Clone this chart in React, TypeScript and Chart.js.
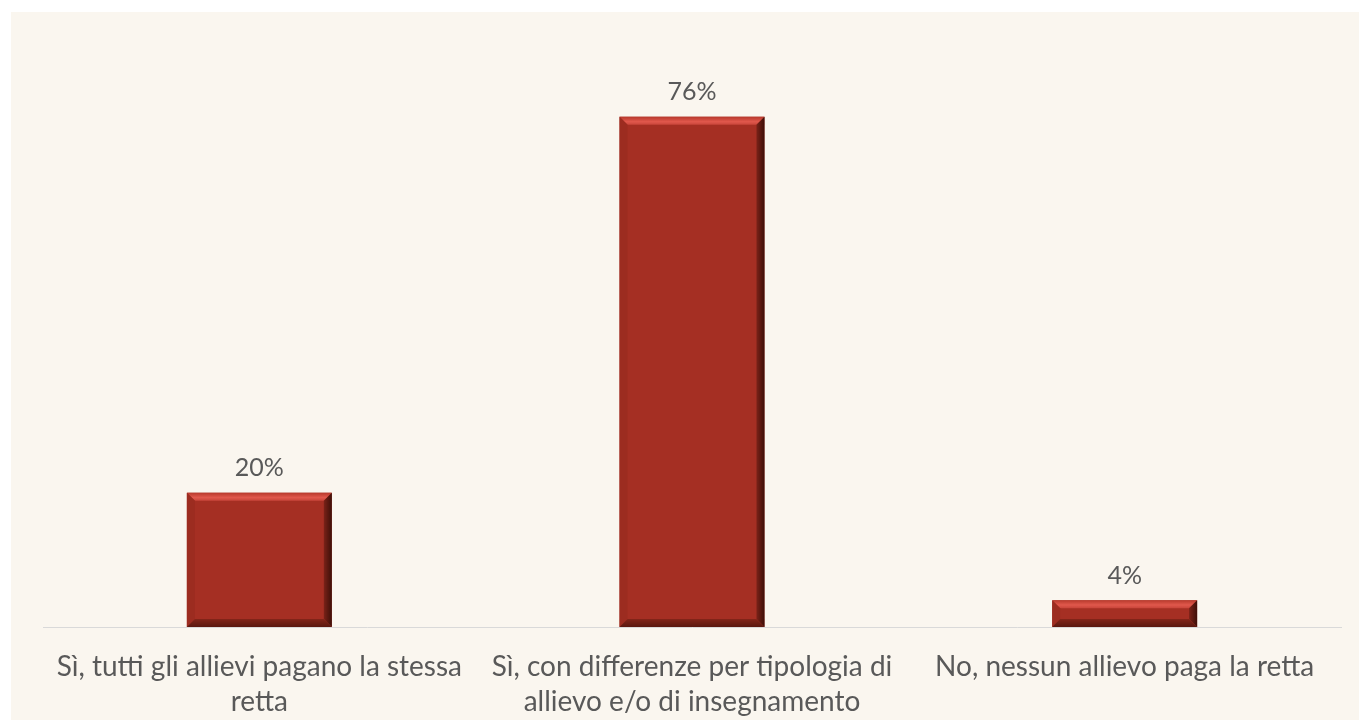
import React, { useEffect, useRef } from "react";
import { Chart, registerables } from "chart.js";

Chart.register(...registerables);

const categories: string[][] = [
  ["Sì, tutti gli allievi pagano la stessa", "retta"],
  ["Sì, con differenze per tipologia di", "allievo e/o di insegnamento"],
  ["No, nessun allievo paga la retta"],
];
const values: number[] = [20, 76, 4];
const valueLabels: string[] = ["20%", "76%", "4%"];

const bevelPlugin = {
  id: "bevel",
  afterDatasetsDraw(chart: any) {
    const ctx = chart.ctx;
    const meta = chart.getDatasetMeta(0);
    meta.data.forEach((bar: any) => {
      const p = bar.getProps(["x", "y", "base", "width"], true);
      const l = p.x - p.width / 2;
      const r = p.x + p.width / 2;
      const t = Math.min(p.y, p.base);
      const btm = Math.max(p.y, p.base);
      const b = Math.min(8, (btm - t) / 3);
      ctx.save();
      const poly = (pts: number[][], fill: any) => {
        ctx.beginPath();
        ctx.moveTo(pts[0][0], pts[0][1]);
        for (let i = 1; i < pts.length; i++) ctx.lineTo(pts[i][0], pts[i][1]);
        ctx.closePath();
        ctx.fillStyle = fill;
        ctx.fill();
      };
      const gTop = ctx.createLinearGradient(0, t, 0, t + b);
      gTop.addColorStop(0, "#B8392C");
      gTop.addColorStop(0.6, "#E0584C");
      gTop.addColorStop(1, "#C8453A");
      poly([[l, t], [r, t], [r - b, t + b], [l + b, t + b]], gTop);
      poly([[l, t], [l + b, t + b], [l + b, btm - b], [l, btm]], "#9C2C20");
      const gR = ctx.createLinearGradient(r - b, 0, r, 0);
      gR.addColorStop(0, "#7A2218");
      gR.addColorStop(1, "#3E0F08");
      poly([[r, t], [r, btm], [r - b, btm - b], [r - b, t + b]], gR);
      const gB = ctx.createLinearGradient(0, btm - b, 0, btm);
      gB.addColorStop(0, "#832519");
      gB.addColorStop(1, "#5A180F");
      poly([[l, btm], [r, btm], [r - b, btm - b], [l + b, btm - b]], gB);
      ctx.restore();
    });
  },
};

const labelPlugin = {
  id: "valueLabels",
  afterDatasetsDraw(chart: any) {
    const ctx = chart.ctx;
    const meta = chart.getDatasetMeta(0);
    ctx.save();
    ctx.font = "25px Lato";
    ctx.fillStyle = "#595959";
    ctx.textAlign = "center";
    ctx.textBaseline = "bottom";
    meta.data.forEach((bar: any, i: number) => {
      const p = bar.getProps(["x", "y"], true);
      ctx.fillText(valueLabels[i], p.x, p.y - 12);
    });
    ctx.restore();
  },
};

export default function App() {
  const ref = useRef<HTMLCanvasElement | null>(null);
  useEffect(() => {
    if (!ref.current) return;
    const chart = new Chart(ref.current, {
      type: "bar",
      data: {
        labels: categories,
        datasets: [
          {
            data: values,
            backgroundColor: "#A52F23",
            borderWidth: 0,
            barPercentage: 0.335,
            categoryPercentage: 1,
          },
        ],
      },
      options: {
        animation: false,
        responsive: true,
        maintainAspectRatio: false,
        layout: { padding: { left: 32, right: 18, top: 78, bottom: 0 } },
        plugins: {
          legend: { display: false },
          tooltip: { enabled: false },
        },
        scales: {
          x: {
            grid: { display: false, drawTicks: false },
            border: { display: true, color: "#D9D9D9", width: 1 },
            ticks: {
              color: "#595959",
              font: { family: "Lato", size: 28, lineHeight: 1.25 },
              padding: 22,
              maxRotation: 0,
              autoSkip: false,
            },
            afterFit(scale: any) {
              scale.height = 93;
            },
          },
          y: {
            display: false,
            min: 0,
            max: 80,
          },
        },
      },
      plugins: [bevelPlugin, labelPlugin],
    });
    return () => chart.destroy();
  }, []);
  return (
    <div
      style={{
        position: "fixed",
        left: 11,
        top: 12,
        width: 1348,
        height: 708,
        background: "#FAF6EF",
      }}
    >
      <canvas ref={ref} />
    </div>
  );
}
